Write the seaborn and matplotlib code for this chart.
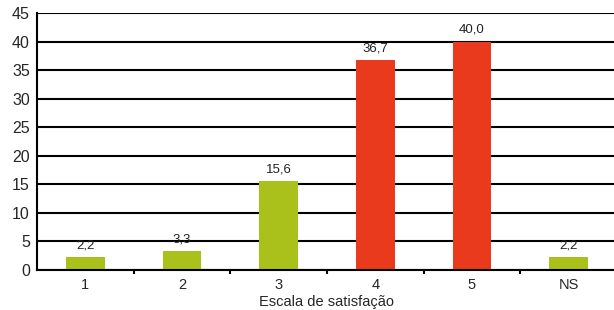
import numpy as np
import pandas as pd
import matplotlib
matplotlib.use('Agg')
import matplotlib.pyplot as plt
import seaborn as sns

# data
categories = ['1', '2', '3', '4', '5', 'NS']
values = [2.2, 3.3, 15.6, 36.7, 40.0, 2.2]
bar_colors = ['#a9c11a', '#a9c11a', '#a9c11a', '#ea3a1e', '#ea3a1e', '#a9c11a']
value_labels = ['2,2', '3,3', '15,6', '36,7', '40,0', '2,2']

df = pd.DataFrame({'cat': categories, 'val': values})

sns.set_style('white')
plt.rcParams['font.family'] = ['Liberation Sans', 'DejaVu Sans']

fig = plt.figure(figsize=(6.14, 3.10), dpi=100)
ax = fig.add_axes([0.06, 0.129, 0.945, 0.829])

sns.barplot(data=df, x='cat', y='val', hue='cat', palette=bar_colors,
            legend=False, width=0.4, saturation=1, linewidth=0, ax=ax)

# horizontal grid lines
ax.set_ylim(0, 45)
ax.set_yticks(np.arange(0, 46, 5))
ax.yaxis.grid(True, color='black', linewidth=1.5)
ax.set_axisbelow(True)
ax.set_xlim(-0.5, 5.5)

for i, (v, lab) in enumerate(zip(values, value_labels)):
    ax.text(i, v + 1.0, lab, ha='center', va='bottom', fontsize=9.5, color='#222222')

for s in ['top', 'right']:
    ax.spines[s].set_visible(False)
for s in ['left', 'bottom']:
    ax.spines[s].set_color('black')
    ax.spines[s].set_linewidth(1.5)

# small ticks between categories
ax.set_xticks(np.arange(0.5, 5, 1), minor=True)
ax.tick_params(axis='x', which='minor', length=3, width=1.5, color='black', bottom=True)
ax.tick_params(axis='x', which='major', length=0, labelsize=10.5, pad=6)
ax.tick_params(axis='y', length=0, labelsize=11.5, pad=5)

ax.set_xlabel('Escala de satisfação', fontsize=10.5, labelpad=2)
ax.set_ylabel('')

fig.savefig('out.png', dpi=100)
